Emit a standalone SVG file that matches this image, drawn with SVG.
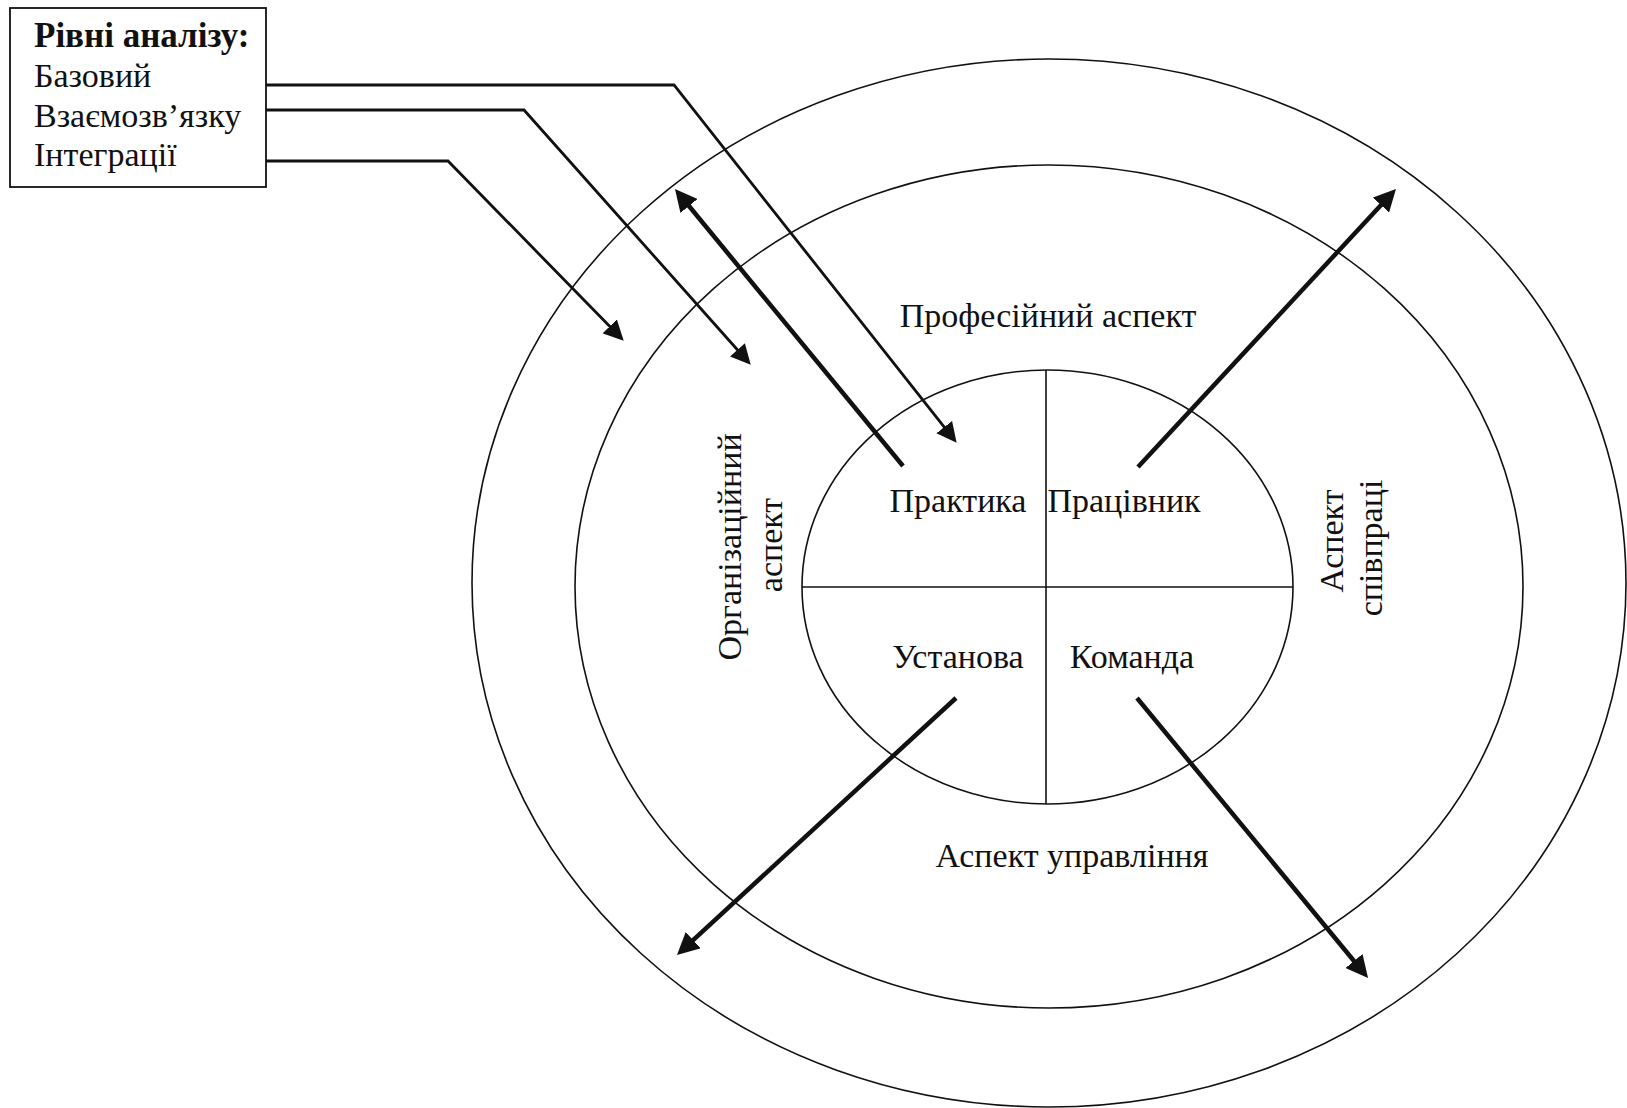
<svg xmlns="http://www.w3.org/2000/svg" width="1627" height="1108" viewBox="0 0 1627 1108">
<style>
  .t { font-family: "Liberation Serif", "Times New Roman", serif; font-size: 34px; fill: #111; }
  .b { font-weight: bold; font-size: 35px; }
  .ring { fill: none; stroke: #111; stroke-width: 1.6; }
  .thin { fill: none; stroke: #111; stroke-width: 2.8; }
  .thick { fill: none; stroke: #111; stroke-width: 4.5; }
  .c { text-anchor: middle; }
</style>
<defs>
  <marker id="ah" markerUnits="userSpaceOnUse" markerWidth="20" markerHeight="20" refX="9" refY="10" orient="auto">
    <path d="M0,0 L20,10 L0,20 z" fill="#111"/>
  </marker>
  <marker id="ahb" markerUnits="userSpaceOnUse" markerWidth="22" markerHeight="22" refX="10" refY="11" orient="auto">
    <path d="M0,0 L22,11 L0,22 z" fill="#111"/>
  </marker>
</defs>
<rect width="1627" height="1108" fill="#fff"/>

<g id="outer-ring"><ellipse class="ring" cx="1049" cy="583" rx="577" ry="524"/></g>
<g id="middle-ring"><ellipse class="ring" cx="1049" cy="586.5" rx="474" ry="421.5"/></g>
<g id="inner-circle">
  <ellipse class="ring" cx="1047.5" cy="587" rx="245.5" ry="217"/>
  <line class="ring" x1="1046" y1="370" x2="1046" y2="804"/>
  <line class="ring" x1="802" y1="587" x2="1293" y2="587"/>
</g>

<g id="levels-box">
  <rect x="10" y="8" width="256" height="179" fill="#fff" stroke="#111" stroke-width="1.8"/>
  <text class="t b" x="34" y="47">Рівні аналізу:</text>
  <text class="t" x="34" y="87">Базовий</text>
  <text class="t" x="34" y="127">Взаємозв’язку</text>
  <text class="t" x="34" y="166">Інтеграції</text>
</g>

<g id="label-professional"><text class="t c" x="1048" y="327">Професійний аспект</text></g>
<g id="label-management"><text class="t c" x="1072" y="867">Аспект управління</text></g>
<g id="label-organizational">
  <text class="t c" transform="translate(741,547) rotate(-90)">Організаційний</text>
  <text class="t c" transform="translate(782,545) rotate(-90)">аспект</text>
</g>
<g id="label-cooperation">
  <text class="t c" transform="translate(1343,541) rotate(-90)">Аспект</text>
  <text class="t c" transform="translate(1382,548) rotate(-90)">співпраці</text>
</g>
<g id="q-practice"><text class="t c" x="958" y="512">Практика</text></g>
<g id="q-worker"><text class="t c" x="1124" y="512">Працівник</text></g>
<g id="q-institution"><text class="t c" x="958" y="668">Установа</text></g>
<g id="q-team"><text class="t c" x="1132" y="668">Команда</text></g>

<g id="connectors">
  <polyline class="thin" points="266,85 674,85 949.8,434.2" marker-end="url(#ah)"/>
  <polyline class="thin" points="266,110 524,110 743.4,356.5" marker-end="url(#ah)"/>
  <polyline class="thin" points="266,161 448,161 616,332.8" marker-end="url(#ah)"/>
  <line class="thick" x1="903" y1="466" x2="682.6" y2="198.3" marker-end="url(#ahb)"/>
  <line class="thick" x1="1138" y1="467" x2="1387.8" y2="197.8" marker-end="url(#ahb)"/>
  <line class="thick" x1="956" y1="698" x2="685.8" y2="946.9" marker-end="url(#ahb)"/>
  <line class="thick" x1="1137" y1="698" x2="1360.4" y2="968.7" marker-end="url(#ahb)"/>
</g>
</svg>
